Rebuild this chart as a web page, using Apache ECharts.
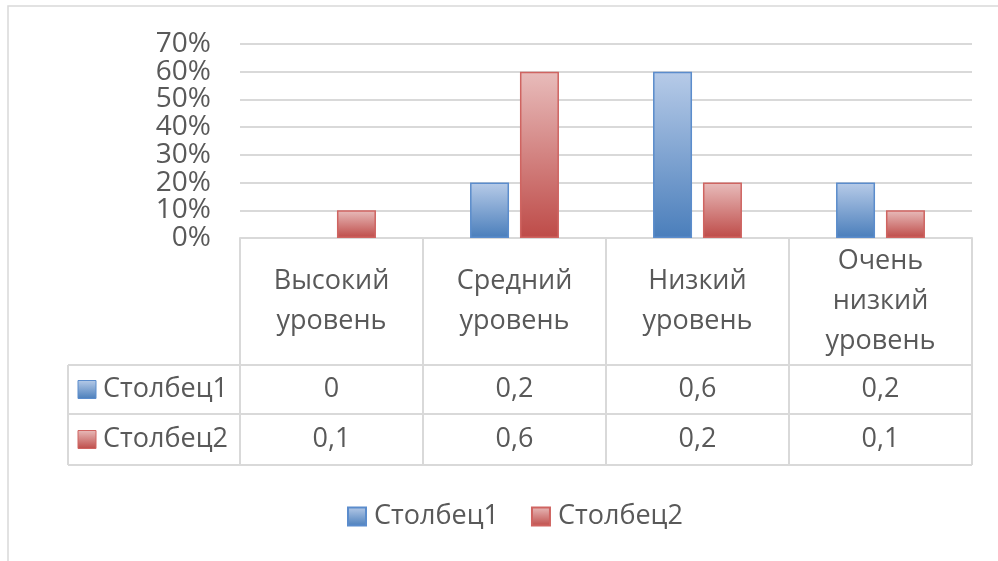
<!DOCTYPE html>
<html><head><meta charset="utf-8">
<script src="https://cdn.jsdelivr.net/npm/echarts@6/dist/echarts.min.js"></script>
<style>html,body{margin:0;padding:0;background:#fff}#c{width:998px;height:561px}</style>
</head><body><div id="c"></div>
<script>
const categories = ['Высокий уровень', 'Средний уровень', 'Низкий уровень', 'Очень низкий уровень'];
const categoryLines = [['Высокий', 'уровень'], ['Средний', 'уровень'], ['Низкий', 'уровень'], ['Очень', 'низкий', 'уровень']];
const seriesNames = ['Столбец1', 'Столбец2'];
const series1 = [0, 0.2, 0.6, 0.2];
const series2 = [0.1, 0.6, 0.2, 0.1];
const yTicks = [0, 0.1, 0.2, 0.3, 0.4, 0.5, 0.6, 0.7];
const yTickLabels = ['0%', '10%', '20%', '30%', '40%', '50%', '60%', '70%'];
const yMax = 0.7, yStep = 0.1;

const FONT = 'Open Sans';
const TXT = '#595959';
const LINE = '#d9d9d9';
const TFS = 27;
const blueGrad = () => new echarts.graphic.LinearGradient(0, 0, 0, 1, [{offset: 0, color: '#b7cbe8'}, {offset: 1, color: '#4a7ebb'}]);
const redGrad = () => new echarts.graphic.LinearGradient(0, 0, 0, 1, [{offset: 0, color: '#e8bcbb'}, {offset: 1, color: '#be4b48'}]);
const fills = [blueGrad, redGrad];
const borders = ['#5b8ccc', '#cf6461'];

const chart = echarts.init(document.getElementById('c'), null, {renderer: 'canvas'});
const fmt = v => String(v).replace('.', ',');

chart.setOption({
  animation: false,
  textStyle: {fontFamily: FONT},
  grid: {left: 240, right: 26, top: 44, bottom: 323, containLabel: false},
  xAxis: {
    type: 'category', data: categories,
    axisLine: {show: true, lineStyle: {color: LINE, width: 2}},
    axisTick: {show: false}, axisLabel: {show: false}, splitLine: {show: false}
  },
  yAxis: {
    type: 'value', min: 0, max: yMax, interval: yStep,
    axisLine: {show: false}, axisTick: {show: false},
    axisLabel: {show: false},
    splitLine: {lineStyle: {color: LINE, width: 2}}
  },
  legend: {
    left: 347, top: 503, padding: 0, itemWidth: 18, itemHeight: 18, itemGap: 32,
    icon: 'rect',
    textStyle: {color: TXT, fontSize: TFS, fontFamily: FONT, padding: [0, 0, 0, 3]},
    data: seriesNames
  },
  series: [series1, series2].map((d, i) => ({
    name: seriesNames[i], type: 'bar',
    data: d.map(v => v === 0 ? {value: v, itemStyle: {borderWidth: 0}} : v),
    barWidth: 39, barGap: '28%',
    itemStyle: {color: fills[i](), borderColor: borders[i], borderWidth: 1.5}
  }))
});

const rect = chart.getModel().getComponent('grid').coordinateSystem.getRect();
const x0 = rect.x, x1 = rect.x + rect.width, yAxisLine = rect.y + rect.height;
const colW = rect.width / categories.length;
const tableLeft = 68;
const headerBottom = 365, row1Bottom = 414, row2Bottom = 465;
const rowsBottoms = [row1Bottom, row2Bottom];
const g = [];
const ls = {stroke: LINE, lineWidth: 2};
const font = TFS + 'px "' + FONT + '"';
g.push({type: 'rect', shape: {x: 8, y: 6, width: 1100, height: 700}, style: {fill: 'none', stroke: LINE, lineWidth: 1.5}, silent: true, z: 0});
// y-axis tick labels
yTicks.forEach((t, i) => {
  const py = chart.convertToPixel({yAxisIndex: 0}, t);
  g.push({type: 'text', x: x0 - 29, y: py, style: {text: yTickLabels[i], fill: TXT, font: '28px "' + FONT + '"', align: 'right', verticalAlign: 'middle'}});
});
for (let i = 0; i <= categories.length; i++) {
  const x = x0 + i * colW;
  g.push({type: 'line', shape: {x1: x, y1: yAxisLine, x2: x, y2: row2Bottom}, style: ls});
}
g.push({type: 'line', shape: {x1: tableLeft, y1: headerBottom, x2: tableLeft, y2: row2Bottom}, style: ls});
[headerBottom, row1Bottom, row2Bottom].forEach(y => g.push({type: 'line', shape: {x1: tableLeft, y1: y, x2: x1, y2: y}, style: ls}));
categories.forEach((c, i) => {
  const cx = chart.convertToPixel({xAxisIndex: 0}, c);
  g.push({type: 'text', x: cx, y: (yAxisLine + headerBottom) / 2,
    style: {text: categoryLines[i].join('\n'), fill: TXT, font: font, lineHeight: 40, align: 'center', verticalAlign: 'middle'}});
});
[series1, series2].forEach((arr, r) => {
  const top = r === 0 ? headerBottom : row1Bottom;
  const cy = (top + rowsBottoms[r]) / 2;
  g.push({type: 'rect', shape: {x: 78, y: cy - 9, width: 18, height: 18}, style: {fill: fills[r](), stroke: borders[r], lineWidth: 1}});
  g.push({type: 'text', x: 103, y: cy, style: {text: seriesNames[r], fill: TXT, font: font, align: 'left', verticalAlign: 'middle'}});
  arr.forEach((v, i) => {
    const cx = chart.convertToPixel({xAxisIndex: 0}, categories[i]);
    g.push({type: 'text', x: cx, y: cy, style: {text: fmt(v), fill: TXT, font: font, align: 'center', verticalAlign: 'middle'}});
  });
});
chart.setOption({graphic: g});
</script></body></html>
